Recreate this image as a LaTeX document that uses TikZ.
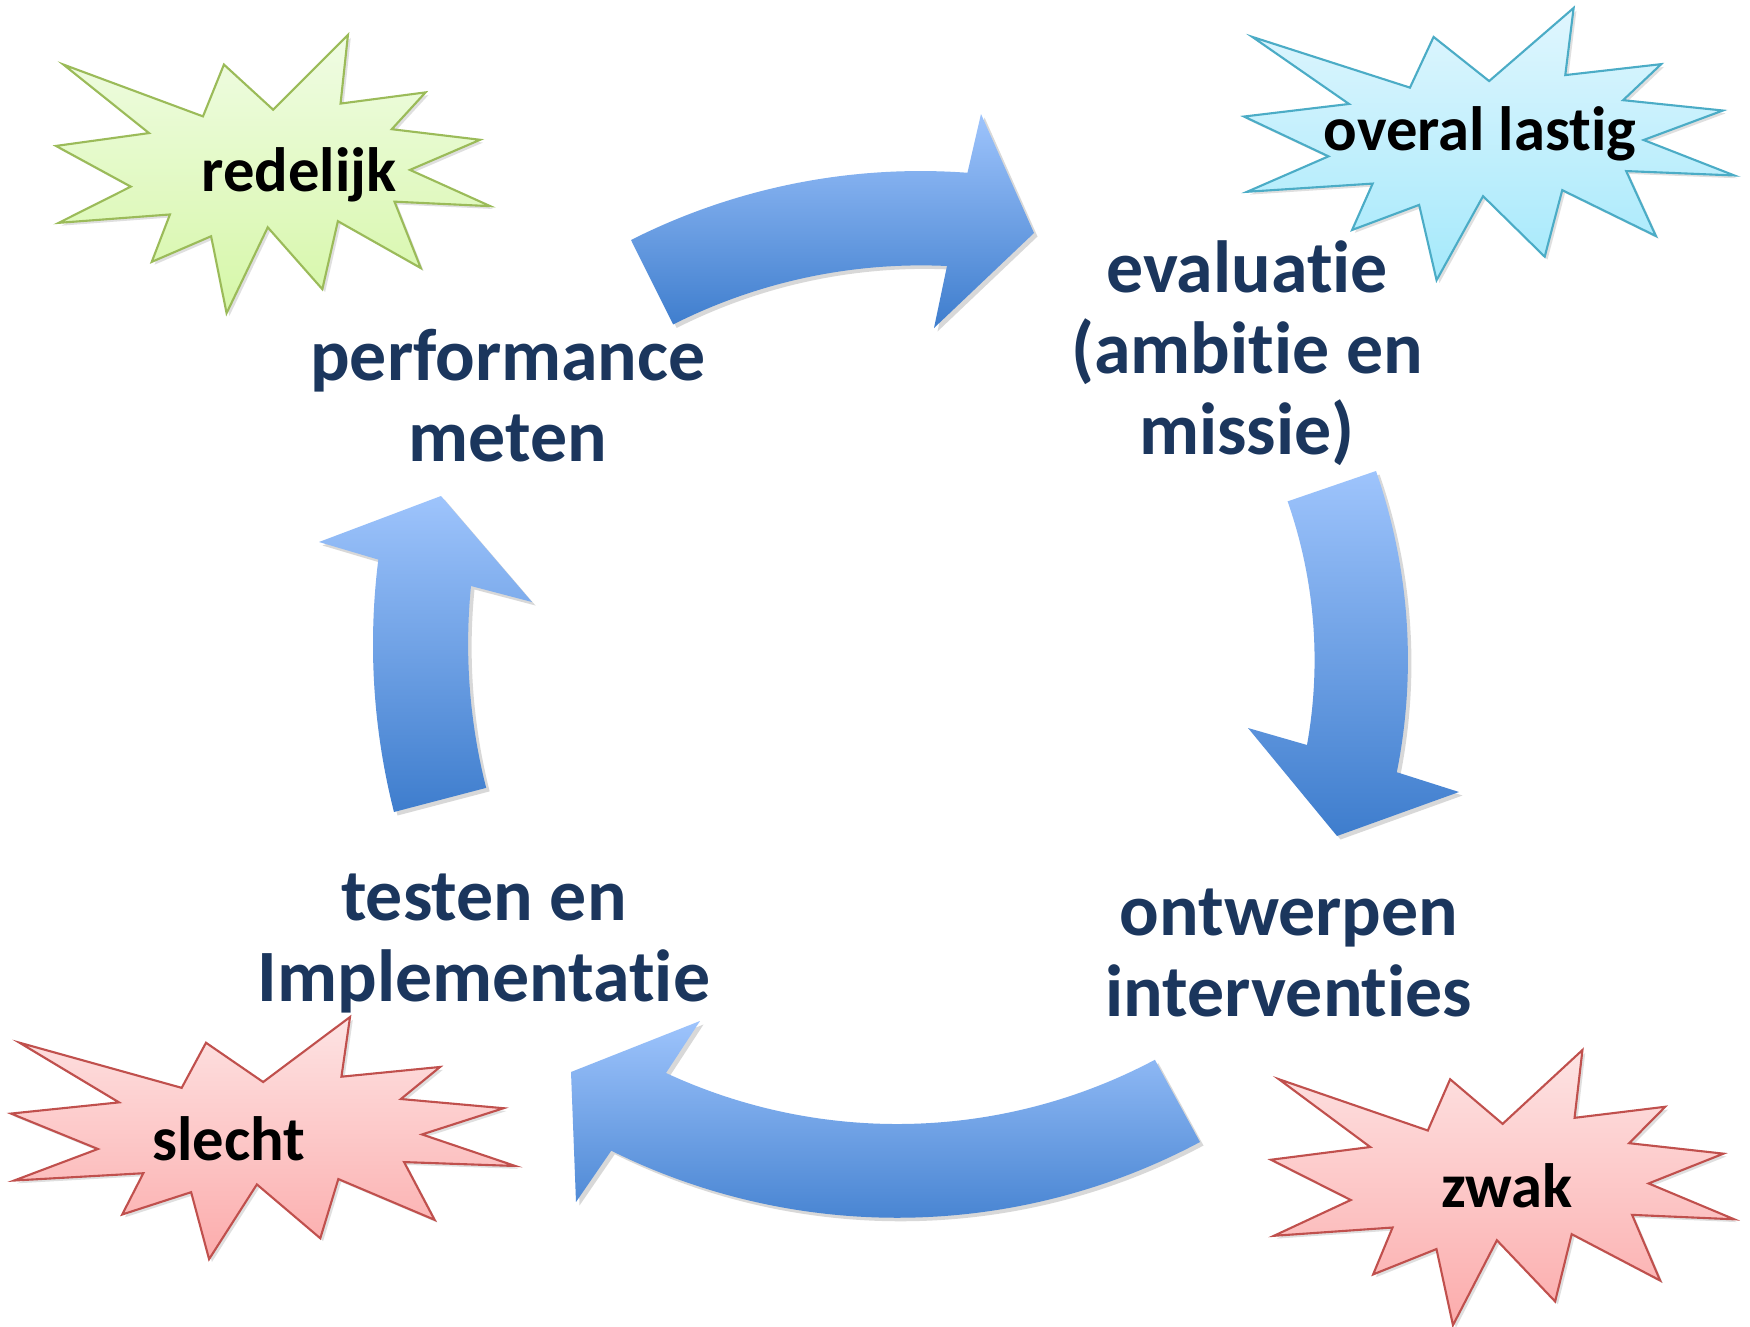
\documentclass[tikz,border=0pt]{standalone}
\usepackage{fontspec}
\setmainfont{Carlito}[Ligatures=NoCommon]
\usetikzlibrary{shadows}

\definecolor{navytext}{HTML}{1B365D}
\definecolor{arrowlight}{HTML}{9EC4FC}
\definecolor{arrowdark}{HTML}{3E7DCD}
\definecolor{greentop}{HTML}{F0FCE4}
\definecolor{greenbot}{HTML}{D6F7A8}
\definecolor{greenline}{HTML}{9BBB59}
\definecolor{bluetop}{HTML}{E0F6FE}
\definecolor{bluebot}{HTML}{A5E9FB}
\definecolor{blueline}{HTML}{4BACC6}
\definecolor{redtop}{HTML}{FDE3E3}
\definecolor{redbot}{HTML}{FCACAC}
\definecolor{redline}{HTML}{C0504D}

\tikzset{
  cycle label/.style={font=\fontsize{21}{23}\selectfont\bfseries, text=navytext,
    align=center, anchor=base, inner sep=0pt},
  seal label/.style={font=\fontsize{17.8}{20}\selectfont\bfseries, text=black,
    anchor=base, inner sep=0pt},
  cycle arrow/.style={top color=arrowlight, bottom color=arrowdark,
    drop shadow={shadow xshift=1pt, shadow yshift=-1pt, opacity=.3}},
  seal/.style n args={3}{top color=#1, bottom color=#2, draw=#3, line width=.6pt,
    drop shadow={shadow xshift=.8pt, shadow yshift=-.8pt, opacity=.25}},
}

\newcommand\sealpath{(50,26.85) -- (67.23,0) -- (65.53,24.65) -- (85.09,20.63)
  -- (77.32,33.87) -- (97.67,37.67) -- (81.51,48.50) -- (100,61.53) -- (77.95,59.92)
  -- (84.00,83.77) -- (64.91,66.93) -- (61.33,91.38) -- (48.76,69.14) -- (39.28,100)
  -- (35.72,72.35) -- (22.05,81.56) -- (26.24,64.52) -- (0.63,67.53) -- (17.23,54.51)
  -- (0,39.88) -- (21.42,35.26) -- (1.71,10.63) -- (33.85,29.26) -- (38.67,10.63) -- cycle}

\begin{document}
\begin{tikzpicture}[x=0.01cm, y=-0.01cm]
  \path[use as bounding box, fill=white] (0,0) rectangle (1750,1327);

  \begin{scope}[shift={(56,35)}, x=0.434mm, y=-0.278mm]
    \path[seal={greentop}{greenbot}{greenline}] \sealpath;
  \end{scope}
  \begin{scope}[shift={(1244,8)}, x=0.490mm, y=-0.272mm]
    \path[seal={bluetop}{bluebot}{blueline}] \sealpath;
  \end{scope}
  \begin{scope}[shift={(11,1017)}, x=0.504mm, y=-0.242mm]
    \path[seal={redtop}{redbot}{redline}] \sealpath;
  \end{scope}
  \begin{scope}[shift={(1271,1050)}, x=0.463mm, y=-0.275mm]
    \path[seal={redtop}{redbot}{redline}] \sealpath;
  \end{scope}

  \node[seal label] (redelijk) at (299,191) {redelijk};
  \node[seal label] (lastig) at (1480,150) {overal lastig};
  \node[seal label] (slecht) at (229,1160) {slecht};
  \node[seal label] (zwak) at (1507,1207) {zwak};

  \path[cycle arrow] (631,240) arc[start angle=243.2, end angle=274.2, radius=642]
    -- (981,114) -- (1034,233) -- (934,328) -- (947,266)
    arc[start angle=272.7, end angle=243.2, radius=550] -- cycle;
  \path[cycle arrow] (1376,471) arc[start angle=-19.2, end angle=11.3, radius=574]
    -- (1459,792) -- (1337,836) -- (1248,728) -- (1307,745)
    arc[start angle=10.2, end angle=-19.3, radius=480] -- cycle;
  \path[cycle arrow] (1200,1142) arc[start angle=61.9, end angle=116.4, radius=643]
    -- (576,1202) -- (571,1072) -- (700,1021) -- (666,1073)
    arc[start angle=114.9, end angle=62, radius=549] -- cycle;
  \path[cycle arrow] (394,812) arc[start angle=165.7, end angle=187.2, radius=678]
    -- (319,542) -- (441,496) -- (532,602) -- (471,586)
    arc[start angle=185.7, end angle=165.7, radius=583] -- cycle;

  \node[cycle label] (meten) at (508,461) {performance\\meten};
  \node[cycle label] (evaluatie) at (1247,454) {evaluatie\\(ambitie en\\missie)};
  \node[cycle label] (ontwerpen) at (1289,1016) {ontwerpen\\interventies};
  \node[cycle label] (testen) at (484,1001) {testen en\\Implementatie};
\end{tikzpicture}
\end{document}
